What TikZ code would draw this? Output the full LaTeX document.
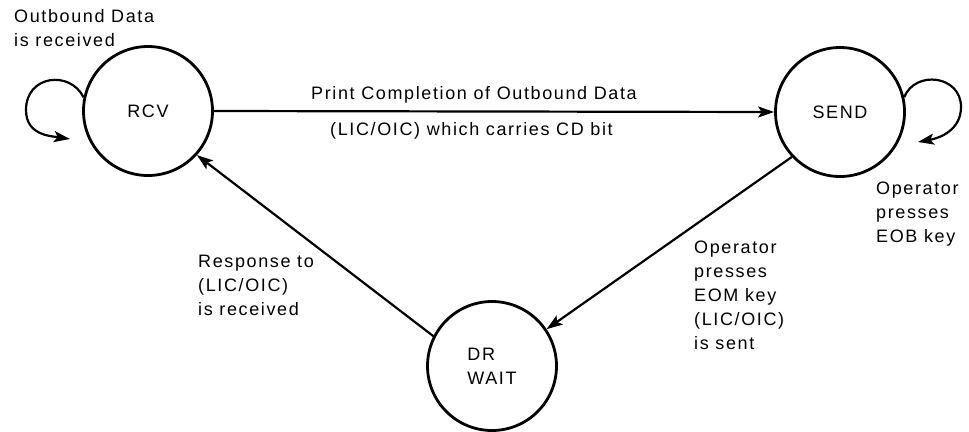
\documentclass[tikz,border=0pt]{standalone}
\usepackage{fontspec}
\setmainfont{Liberation Sans}[LetterSpace=9]
\usetikzlibrary{arrows.meta}
\newcommand\lblfont{\fontsize{18}{24}\selectfont}
\begin{document}
\begin{tikzpicture}[x=1pt,y=-1pt,
  state/.style={circle,draw,line width=2.8pt,minimum size=129pt,inner sep=0pt,
    font=\lblfont,align=left},
  conn/.style={line width=2.2pt,-{Stealth[length=16pt,width=11pt,inset=3.5pt]}},
  lbl/.style={font=\lblfont,align=left,inner sep=0pt}]
\useasboundingbox (0,0) rectangle (969,431);

% states
\node[state] (rcv)  at (148,111)   {RCV};
\node[state] (send) at (840,112)   {SEND};
\node[state] (dr)   at (492,366) {DR\\WAIT};

% free ends of the self loops
\coordinate (rcvloop)  at (70,139);
\coordinate (sendloop) at (918,142);

% transitions
\draw[conn] (rcv.east) -- (send.west);
\draw[conn] (send.223) -- (dr.34.5);
\draw[conn] (dr.153) -- (rcv.-42);
\draw[conn] (rcv.168) .. controls (70,70) and (26,75) .. (26,110)
                      .. controls (26,135) and (50,136) .. (rcvloop);
\draw[conn] (send.13.6) .. controls (915,70) and (961,75) .. (961,107)
                        .. controls (961,130) and (940,138) .. (sendloop);

% labels
\node[lbl,anchor=north west] (lout) at (14,9.5) {Outbound Data\\is received};
\node[lbl,anchor=base west] (lprint) at (311,99) {Print Completion of Outbound Data};
\node[lbl,anchor=base west] (lcd) at (330,135) {(LIC/OIC) which carries CD bit};
\node[lbl,anchor=north west] (lresp) at (198,255) {Response to\\(LIC/OIC)\\is received};
\node[lbl,anchor=north west] (leom) at (694,241) {Operator\\presses\\EOM key\\(LIC/OIC)\\is sent};
\node[lbl,anchor=north west] (leob) at (876,182) {Operator\\presses\\EOB key};
\end{tikzpicture}
\end{document}
